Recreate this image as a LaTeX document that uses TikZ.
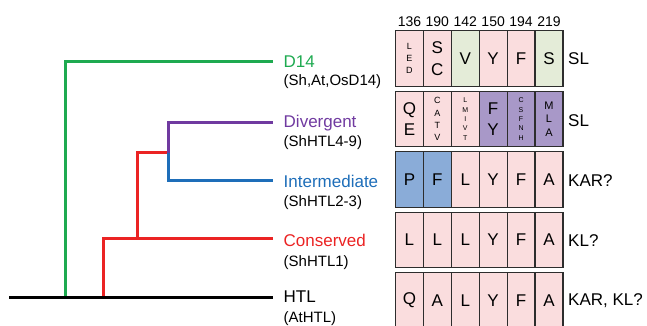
\documentclass[tikz,border=0pt]{standalone}
\usepackage{fontspec}
\setmainfont{Liberation Sans}
\definecolor{cellpink}{RGB}{250,221,222}
\definecolor{cellgreen}{RGB}{228,236,216}
\definecolor{cellpurple}{RGB}{168,152,200}
\definecolor{cellblue}{RGB}{138,172,216}
\definecolor{cellline}{RGB}{45,45,45}
\definecolor{treegreen}{RGB}{30,170,80}
\definecolor{treepurple}{RGB}{112,58,160}
\definecolor{treeblue}{RGB}{30,110,185}
\definecolor{treered}{RGB}{235,35,35}
\newcommand{\fsz}[2]{\fontsize{#1}{#2}\selectfont}
\begin{document}
\begin{tikzpicture}[x=1pt,y=-1pt,
  branch/.style={line width=3pt, line join=miter},
  lab/.style={anchor=west, inner sep=0pt, font=\fsz{17}{17}, text height=12.2pt, text depth=0pt},
  sublab/.style={anchor=west, inner sep=0pt, font=\fsz{15}{15}, text height=10.7pt, text depth=0pt},
  cell/.style={draw=cellline, line width=1.2pt, minimum width=27.9pt, minimum height=55.7pt,
               inner sep=0pt, outer sep=0pt, align=center, font=\fsz{17}{21.5}},
  tinystack/.style={font=\fsz{7}{9.3}},
  smallstack/.style={font=\fsz{9}{12.2}},
  midstack/.style={font=\fsz{11}{13.7}},
  num/.style={inner sep=0pt, font=\fsz{14}{14}, text height=10pt, text depth=0pt},
  note/.style={anchor=west, inner sep=0pt, font=\fsz{17}{17}, text height=12.2pt, text depth=0pt}]
\useasboundingbox (0,0) rectangle (647,325);
\clip (0,0) rectangle (647,325);

% ---- tree ----
\coordinate (root)    at (9,297.3);
\coordinate (nD14)    at (65,297.3);
\coordinate (nCons)   at (103.5,297.3);
\coordinate (nInner)  at (137.8,238.3);
\coordinate (nDivInt) at (168.9,152.7);
\coordinate (tHTL)  at (273.2,297.3);
\coordinate (tD14)  at (273.2,61);
\coordinate (tDiv)  at (273.2,122.7);
\coordinate (tInt)  at (273.2,180.7);
\coordinate (tCons) at (273.2,238.3);

\draw[branch, treegreen]  (nD14) |- (tD14);
\draw[branch, treered]    (nCons) |- (tCons);
\draw[branch, treered]    (nInner) |- (nDivInt);
\draw[branch, treepurple] (nDivInt) |- (tDiv);
\draw[branch, treeblue]   (nDivInt) |- (tInt);
\draw[line width=3.3pt, black] (root) -- (tHTL);

% ---- clade labels ----
\node[lab, text=treegreen]  (D14)  at (283.5,61)    {D14};
\node[sublab]               (D14s) at (283.5,80.5)  {(Sh,At,OsD14)};
\node[lab, text=treepurple] (Div)  at (283.5,121.5) {Divergent};
\node[sublab]               (Divs) at (283.5,141.5) {(ShHTL4-9)};
\node[lab, text=treeblue]   (Int)  at (283.5,181.5) {Intermediate};
\node[sublab]               (Ints) at (283.5,201.5) {(ShHTL2-3)};
\node[lab, text=treered]    (Cons) at (283.5,240.5) {Conserved};
\node[sublab]               (Conss) at (283.5,261)  {(ShHTL1)};
\node[lab]                  (HTL)  at (283.5,296.7) {HTL};
\node[sublab]               (HTLs) at (283.5,317)   {(AtHTL)};

% ---- residue numbers ----
\node[num] (p136) at (409.45,21.7) {136};
\node[num] (p190) at (437.35,21.7) {190};
\node[num] (p142) at (465.25,21.7) {142};
\node[num] (p150) at (493.15,21.7) {150};
\node[num] (p194) at (521.05,21.7) {194};
\node[num] (p219) at (548.95,21.7) {219};

% ---- row 1: D14 ----
\node[cell, fill=cellpink, smallstack] (r1c1) at (409.45,58.5) {L\\E\\D};
\node[cell, fill=cellpink]  (r1c2) at (437.35,58.5) {S\\C};
\node[cell, fill=cellgreen] (r1c3) at (465.25,58.5) {V};
\node[cell, fill=cellpink]  (r1c4) at (493.15,58.5) {Y};
\node[cell, fill=cellpink]  (r1c5) at (521.05,58.5) {F};
\node[cell, fill=cellgreen] (r1c6) at (548.95,58.5) {S};
\node[note] (n1) at (568,58.5) {SL};

% ---- row 2: divergent ----
\node[cell, fill=cellpink]               (r2c1) at (409.45,119) {Q\\E};
\node[cell, fill=cellpink, smallstack]   (r2c2) at (437.35,119) {C\\A\\T\\V};
\node[cell, fill=cellpink, tinystack]    (r2c3) at (465.25,119) {L\\M\\I\\V\\T};
\node[cell, fill=cellpurple]             (r2c4) at (493.15,119) {F\\Y};
\node[cell, fill=cellpurple, tinystack]  (r2c5) at (521.05,119) {C\\S\\F\\N\\H};
\node[cell, fill=cellpurple, midstack]   (r2c6) at (548.95,119) {M\\L\\A};
\node[note] (n2) at (568,120) {SL};

% ---- row 3: intermediate ----
\node[cell, fill=cellblue] (r3c1) at (409.45,179.5) {P};
\node[cell, fill=cellblue] (r3c2) at (437.35,179.5) {F};
\node[cell, fill=cellpink] (r3c3) at (465.25,179.5) {L};
\node[cell, fill=cellpink] (r3c4) at (493.15,179.5) {Y};
\node[cell, fill=cellpink] (r3c5) at (521.05,179.5) {F};
\node[cell, fill=cellpink] (r3c6) at (548.95,179.5) {A};
\node[note] (n3) at (568,180) {KAR?};

% ---- row 4: conserved ----
\node[cell, fill=cellpink] (r4c1) at (409.45,240) {L};
\node[cell, fill=cellpink] (r4c2) at (437.35,240) {L};
\node[cell, fill=cellpink] (r4c3) at (465.25,240) {L};
\node[cell, fill=cellpink] (r4c4) at (493.15,240) {Y};
\node[cell, fill=cellpink] (r4c5) at (521.05,240) {F};
\node[cell, fill=cellpink] (r4c6) at (548.95,240) {A};
\node[note] (n4) at (568,240) {KL?};

% ---- row 5: HTL ----
\node[cell, fill=cellpink] (r5c1) at (409.45,300.5) {Q};
\node[cell, fill=cellpink] (r5c2) at (437.35,300.5) {A};
\node[cell, fill=cellpink] (r5c3) at (465.25,300.5) {L};
\node[cell, fill=cellpink] (r5c4) at (493.15,300.5) {Y};
\node[cell, fill=cellpink] (r5c5) at (521.05,300.5) {F};
\node[cell, fill=cellpink] (r5c6) at (548.95,300.5) {A};
\node[note] (n5) at (568,299) {KAR, KL?};
\end{tikzpicture}
\end{document}
